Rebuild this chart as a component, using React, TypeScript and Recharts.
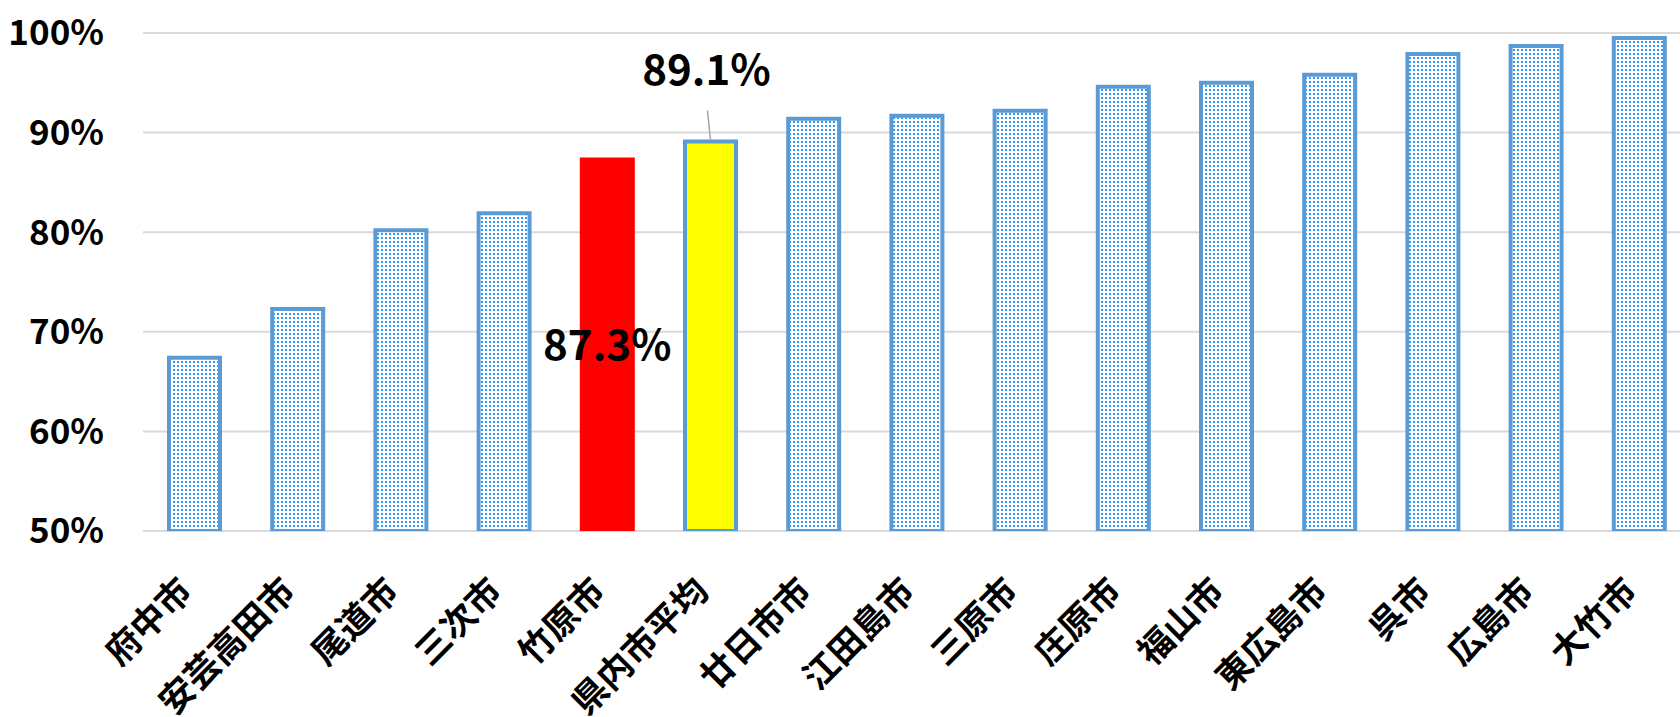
import React from 'react';
import { BarChart, Bar, XAxis, YAxis, CartesianGrid, Cell, LabelList } from 'recharts';

const cities = [
  '府中市', '安芸高田市', '尾道市', '三次市', '竹原市', '県内市平均', '廿日市市', '江田島市',
  '三原市', '庄原市', '福山市', '東広島市', '呉市', '広島市', '大竹市'
];
const rates = [67.4, 72.3, 80.2, 81.9, 87.3, 89.1, 91.4, 91.7, 92.2, 94.6, 95.0, 95.8, 97.9, 98.7, 99.5];
const yTicks = [50, 60, 70, 80, 90, 100];

const HIGHLIGHT_CITY = '竹原市';
const AVERAGE_CITY = '県内市平均';

const FONT = '"Noto Sans CJK JP", "Noto Sans", sans-serif';
const BORDER_BLUE = '#5B9BD5';

const chartData = cities.map((city, i) => ({ city, rate: rates[i] }));

// rotated city name, anchored at its end just under the bar
const CityTick = (props: any) => {
  const { x, y, payload } = props;
  return (
    <g transform={`translate(${x},${y + 54})`}>
      <text
        x={0}
        y={0}
        textAnchor="end"
        transform="rotate(-45)"
        fontFamily={FONT}
        fontSize={35}
        fontWeight="bold"
        fill="#000"
      >
        {payload.value}
      </text>
    </g>
  );
};

// only the highlighted city and the prefecture average carry a value label
const renderRateLabel = (props: any) => {
  const { x, y, width, height, value, index } = props;
  const city = cities[index];
  const cx = x + width / 2;
  if (city === HIGHLIGHT_CITY) {
    return (
      <text x={cx} y={y + height / 2} dy="0.36em" textAnchor="middle" fontFamily={FONT}
        fontSize={42} fontWeight="bold" fill="#000">
        {`${value}%`}
      </text>
    );
  }
  if (city === AVERAGE_CITY) {
    return (
      <g>
        <line x1={cx - 3} y1={y - 31} x2={cx} y2={y - 1} stroke="#A6A6A6" strokeWidth={1.5} />
        <text x={cx - 4} y={y - 72} dy="0.36em" textAnchor="middle" fontFamily={FONT}
          fontSize={42} fontWeight="bold" fill="#000">
          {`${value}%`}
        </text>
      </g>
    );
  }
  return null;
};

export default function App() {
  return (
    <div style={{ position: 'absolute', left: 0, top: 0, width: 1680, height: 717, overflow: 'hidden', background: '#fff' }}>
      <BarChart
        width={1691}
        height={717}
        data={chartData}
        margin={{ top: 33, right: 0, bottom: 0, left: 0 }}
      >
        <defs>
          <pattern id="smallDots" patternUnits="userSpaceOnUse" width="4" height="4">
            <rect x="0" y="0" width="4" height="4" fill="#fff" />
            <rect x="1" y="1" width="2" height="2" fill="#3399FF" />
          </pattern>
        </defs>
        <CartesianGrid vertical={false} stroke="#D9D9D9" strokeWidth={2} />
        <XAxis
          dataKey="city"
          height={186}
          axisLine={false}
          tickLine={false}
          interval={0}
          tick={<CityTick />}
        />
        <YAxis
          width={143}
          domain={[50, 100]}
          ticks={yTicks}
          allowDataOverflow
          axisLine={false}
          tickLine={false}
          tickSize={0}
          tickMargin={39}
          tickFormatter={(v: number) => `${v}%`}
          tick={{ fontFamily: FONT, fontSize: 35, fontWeight: 'bold', fill: '#000' }}
        />
        <Bar dataKey="rate" barSize={51} strokeWidth={4} isAnimationActive={false}>
          {chartData.map((d) => {
            if (d.city === HIGHLIGHT_CITY) {
              return <Cell key={d.city} fill="#FF0000" stroke="#FF0000" />;
            }
            if (d.city === AVERAGE_CITY) {
              return <Cell key={d.city} fill="#FFFF00" stroke={BORDER_BLUE} />;
            }
            return <Cell key={d.city} fill="url(#smallDots)" stroke={BORDER_BLUE} />;
          })}
          <LabelList dataKey="rate" content={renderRateLabel} />
        </Bar>
      </BarChart>
    </div>
  );
}
